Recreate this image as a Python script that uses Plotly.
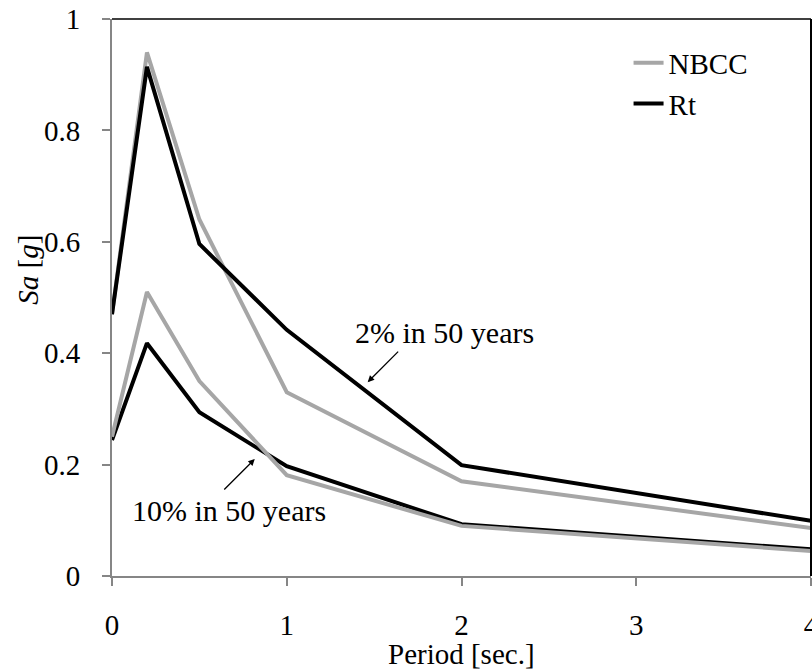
import plotly.graph_objects as go

period = [0, 0.2, 0.5, 1.0, 2.0, 4.0]
nbcc_2pct = [0.47, 0.94, 0.64, 0.33, 0.17, 0.086]
rt_2pct = [0.47, 0.914, 0.596, 0.442, 0.199, 0.099]
nbcc_10pct = [0.25, 0.51, 0.35, 0.181, 0.09, 0.045]
rt_10pct = [0.244, 0.418, 0.294, 0.197, 0.093, 0.048]

x_ticks = [0, 1, 2, 3, 4]
y_ticks = [0, 0.2, 0.4, 0.6, 0.8, 1.0]
y_ticklabels = ["0", "0.2", "0.4", "0.6", "0.8", "1"]

GRAY = "#A6A6A6"
FONT = "Times New Roman"

fig = go.Figure()
fig.add_trace(go.Scatter(x=period, y=nbcc_2pct, mode="lines", name="NBCC",
                         legendgroup="nbcc", line=dict(color=GRAY, width=4)))
fig.add_trace(go.Scatter(x=period, y=rt_2pct, mode="lines", name="Rt",
                         legendgroup="rt", line=dict(color="black", width=4)))
fig.add_trace(go.Scatter(x=period, y=rt_10pct, mode="lines", name="Rt",
                         legendgroup="rt", showlegend=False, line=dict(color="black", width=4)))
fig.add_trace(go.Scatter(x=period, y=nbcc_10pct, mode="lines", name="NBCC",
                         legendgroup="nbcc", showlegend=False, line=dict(color=GRAY, width=4)))

fig.update_layout(
    width=812, height=671,
    margin=dict(l=112, r=1, t=19, b=95),
    paper_bgcolor="white", plot_bgcolor="white",
    font=dict(family=FONT, size=29, color="black"),
    showlegend=True,
    legend=dict(x=0.739, y=0.967, xanchor="left", yanchor="top",
                bgcolor="rgba(0,0,0,0)", font=dict(family=FONT, size=29),
                tracegroupgap=0, itemwidth=30),
    xaxis=dict(range=[0, 4], tickvals=x_ticks, showgrid=False, zeroline=False,
               showline=True, linecolor="#868686", linewidth=2, automargin=False,
               ticks="outside", ticklen=8, tickcolor="#868686", tickwidth=1.5,
               ticklabelstandoff=14, ticklabeloverflow="allow",
               tickfont=dict(family=FONT, size=29)),
    yaxis=dict(range=[0, 1], tickvals=y_ticks, ticktext=y_ticklabels, showgrid=False,
               zeroline=False, showline=True, linecolor="#868686", linewidth=2, automargin=False,
               ticks="outside", ticklen=8, tickcolor="#868686", tickwidth=1.5,
               ticklabelstandoff=16, tickfont=dict(family=FONT, size=29)),
    shapes=[
        dict(type="line", xref="paper", yref="paper", x0=0, x1=1, y0=1, y1=1,
             line=dict(color="black", width=1.5)),
        dict(type="line", xref="paper", yref="paper", x0=1, x1=1, y0=0, y1=1,
             line=dict(color="black", width=2)),
    ],
    annotations=[
        dict(text="<i>Sa</i> [<i>g</i>]", xref="paper", yref="paper",
             x=-0.12, y=0.55, textangle=-90, showarrow=False,
             xanchor="center", yanchor="middle", font=dict(family=FONT, size=29)),
        dict(text="Period [sec.]", xref="paper", yref="paper",
             x=0.5, y=-0.14, showarrow=False, xanchor="center", yanchor="middle",
             font=dict(family=FONT, size=29)),
        dict(text="2% in 50 years", x=1.903, y=0.438, xref="x", yref="y",
             showarrow=False, font=dict(family=FONT, size=30)),
        dict(text="", x=1.463, y=0.348, xref="x", yref="y", showarrow=True,
             ax=32, ay=-32, arrowhead=2, arrowsize=1, arrowwidth=1.3, arrowcolor="black"),
        dict(text="10% in 50 years", x=0.669, y=0.118, xref="x", yref="y",
             showarrow=False, font=dict(family=FONT, size=30)),
        dict(text="", x=0.817, y=0.21, xref="x", yref="y", showarrow=True,
             ax=-32, ay=32, arrowhead=2, arrowsize=1, arrowwidth=1.3, arrowcolor="black"),
    ],
)

fig.write_html("out.html")
